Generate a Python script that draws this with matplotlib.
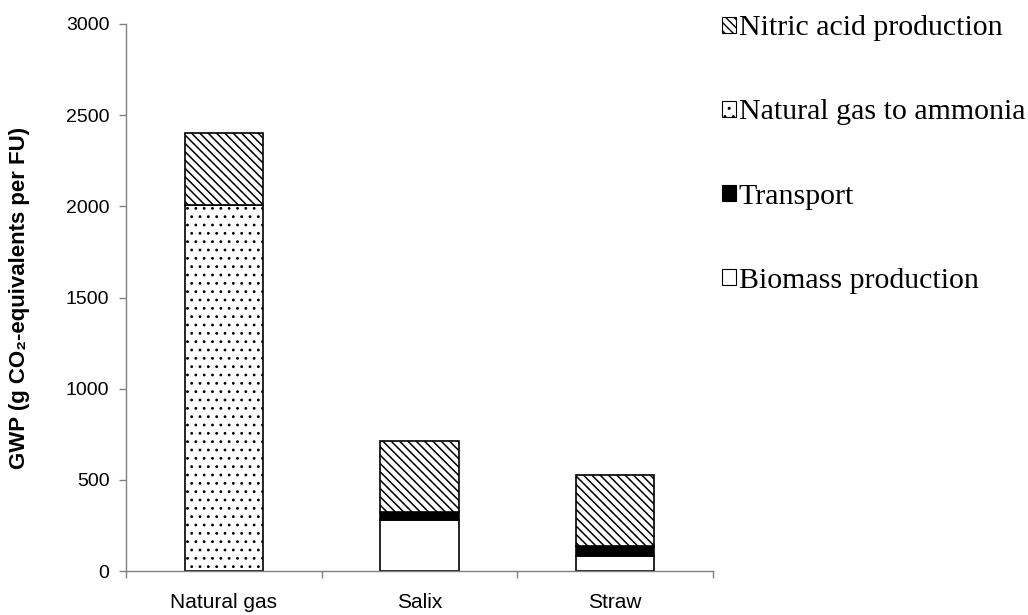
import matplotlib
matplotlib.use("Agg")
from matplotlib import pyplot as plt
from matplotlib.patches import Patch

# data (g CO2-eq per FU)
categories = ["Natural gas", "Salix", "Straw"]
biomass = [0, 280, 80]
transport = [0, 45, 55]
natgas_ammonia = [2010, 0, 0]
nitric_acid = [390, 390, 390]

series_labels = ["Biomass production", "Transport",
                 "Natural gas to ammonia", "Nitric acid production"]
yticks = [0, 500, 1000, 1500, 2000, 2500, 3000]

plt.rcParams["font.family"] = ["Liberation Sans", "DejaVu Sans"]

fig = plt.figure(figsize=(10.28, 6.15), dpi=100)
ax = fig.add_axes([0.1226, 0.0715, 0.5710, 0.8895])

x = list(range(len(categories)))
w = 0.4
# facecolor, hatch, hatch line width
styles = [
    ("white", None, 1.0),
    ("black", None, 1.0),
    ("white", "..", 0.8),
    ("white", "\\\\\\\\", 1.1),
]
bottom = [0] * len(categories)
handles = []
for vals, (fc, h, hlw), lab in zip(
        [biomass, transport, natgas_ammonia, nitric_acid], styles, series_labels):
    with plt.rc_context({"hatch.linewidth": hlw}):
        ax.bar(x, vals, width=w, bottom=bottom, facecolor=fc, hatch=h,
               edgecolor="black", linewidth=1.2)
        handles.append(Patch(facecolor=fc, hatch=h, edgecolor="black",
                             linewidth=0.8, label=lab))
    bottom = [b + v for b, v in zip(bottom, vals)]

ax.set_xlim(-0.5, 2.5)
ax.set_ylim(0, 3000)
ax.set_yticks(yticks)
ax.set_xticks(x)
ax.set_xticklabels(categories)
ax.set_xticks([-0.5, 0.5, 1.5, 2.5], minor=True)
ax.tick_params(axis="x", which="major", length=0, pad=16, labelsize=15)
ax.tick_params(axis="x", which="minor", length=5, color="#808080", width=1)
ax.tick_params(axis="y", length=5, color="#808080", width=1, pad=7,
               labelsize=14)

for s in ["top", "right"]:
    ax.spines[s].set_visible(False)
for s in ["left", "bottom"]:
    ax.spines[s].set_color("#808080")
    ax.spines[s].set_linewidth(1)

ax.set_ylabel("GWP (g CO\u2082-equivalents per FU)", fontsize=16,
              fontweight="bold")
ax.yaxis.set_label_coords(-0.1635, 0.5)

leg = fig.legend(handles=handles[::-1], loc="upper left",
                 bbox_to_anchor=(0.697, 0.985), frameon=False,
                 prop={"family": "Liberation Serif", "size": 21.5},
                 handlelength=0.45, handleheight=0.45, handletextpad=0.1,
                 labelspacing=1.95, borderpad=0.2, borderaxespad=0)

fig.savefig("out.png", dpi=100)
